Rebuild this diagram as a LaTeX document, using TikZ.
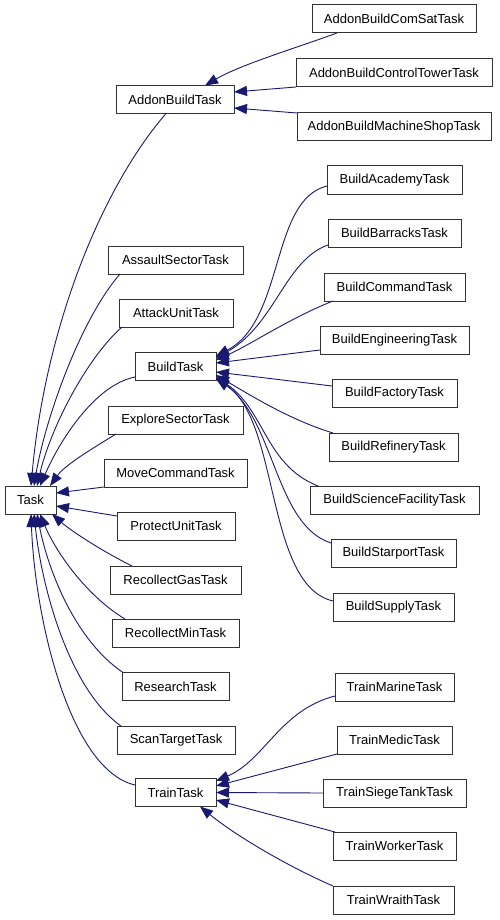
\documentclass[tikz,border=0pt]{standalone}
\usepackage{fontspec}
\setmainfont{Liberation Sans}
\usetikzlibrary{arrows.meta}
\definecolor{edgeblue}{HTML}{191970}
\definecolor{boxline}{HTML}{333333}
\begin{document}
\begin{tikzpicture}[x=1pt,y=-1pt,
  cls/.style={draw=boxline, line width=1pt, fill=white, minimum height=28pt, inner sep=0pt, outer sep=0pt, font=\fontsize{13}{15}\selectfont},
  conn/.style={draw=edgeblue, line width=0.9pt, -{Triangle[length=13pt,width=10pt]}}]
\useasboundingbox (0,0) rectangle (499,920);
\fill[white] (0,0) rectangle (499,920);
% left
\node[cls, minimum width=51pt] (Task) at (30.5,500) {Task};
% middle column
\node[cls, minimum width=118pt] (AddonBuildTask) at (175,99.5) {AddonBuildTask};
\node[cls, minimum width=135pt] (AssaultSectorTask) at (175.5,260) {AssaultSectorTask};
\node[cls, minimum width=114pt] (AttackUnitTask) at (176,313) {AttackUnitTask};
\node[cls, minimum width=81pt] (BuildTask) at (175.5,366.5) {BuildTask};
\node[cls, minimum width=135pt] (ExploreSectorTask) at (175.5,420) {ExploreSectorTask};
\node[cls, minimum width=143pt] (MoveCommandTask) at (175.5,473) {MoveCommandTask};
\node[cls, minimum width=118pt] (ProtectUnitTask) at (176,526) {ProtectUnitTask};
\node[cls, minimum width=131pt] (RecollectGasTask) at (175.5,580) {RecollectGasTask};
\node[cls, minimum width=127pt] (RecollectMinTask) at (175.5,633) {RecollectMinTask};
\node[cls, minimum width=107pt] (ResearchTask) at (175.5,686.5) {ResearchTask};
\node[cls, minimum width=118pt] (ScanTargetTask) at (176,740) {ScanTargetTask};
\node[cls, minimum width=81pt] (TrainTask) at (175.5,792.5) {TrainTask};
% right column
\node[cls, minimum width=164pt] (ComSat) at (394,19) {AddonBuildComSatTask};
\node[cls, minimum width=196pt] (ControlTower) at (394,73) {AddonBuildControlTowerTask};
\node[cls, minimum width=194pt] (MachineShop) at (394,127) {AddonBuildMachineShopTask};
\node[cls, minimum width=135pt] (Academy) at (394.5,180) {BuildAcademyTask};
\node[cls, minimum width=133pt] (Barracks) at (394.5,233) {BuildBarracksTask};
\node[cls, minimum width=141pt] (Command) at (394.5,287) {BuildCommandTask};
\node[cls, minimum width=149pt] (Engineering) at (394.5,340) {BuildEngineeringTask};
\node[cls, minimum width=125pt] (Factory) at (394.5,393) {BuildFactoryTask};
\node[cls, minimum width=129pt] (Refinery) at (393.5,447) {BuildRefineryTask};
\node[cls, minimum width=169pt] (Science) at (394.5,500) {BuildScienceFacilityTask};
\node[cls, minimum width=125pt] (Starport) at (393.5,553) {BuildStarportTask};
\node[cls, minimum width=121pt] (Supply) at (393.5,607) {BuildSupplyTask};
\node[cls, minimum width=119pt] (Marine) at (394.5,687) {TrainMarineTask};
\node[cls, minimum width=115pt] (Medic) at (394.5,740) {TrainMedicTask};
\node[cls, minimum width=143pt] (Siege) at (394.5,793) {TrainSiegeTankTask};
\node[cls, minimum width=123pt] (Worker) at (394.5,846) {TrainWorkerTask};
\node[cls, minimum width=121pt] (Wraith) at (393.5,900) {TrainWraithTask};

% edges to Task
\draw[conn] ([xshift=-9pt]AddonBuildTask.south) .. controls (100,190) and (45,330) .. ([xshift=0.5pt]Task.north);
\draw[conn] ([xshift=12pt]AssaultSectorTask.south west) .. controls (80,320) and (45,420) .. ([xshift=3.5pt]Task.north);
\draw[conn] ([xshift=3pt]AttackUnitTask.south west) .. controls (85,360) and (50,430) .. ([xshift=6.5pt]Task.north);
\draw[conn] ([yshift=-10.5pt]BuildTask.west) .. controls (95,385) and (60,440) .. ([xshift=9.5pt]Task.north);
\draw[conn] ([xshift=8pt]ExploreSectorTask.south west) .. controls (90,450) and (65,465) .. ([xshift=-6pt]Task.north east);
\draw[conn] (MoveCommandTask.south west) -- ([yshift=7pt]Task.east);
\draw[conn] ([yshift=10pt]ProtectUnitTask.west) -- ([yshift=-6pt]Task.east);
\draw[conn] ([xshift=22pt]RecollectGasTask.north west) .. controls (100,550) and (70,530) .. ([xshift=-4pt]Task.south east);
\draw[conn] ([xshift=13pt]RecollectMinTask.north west) .. controls (85,595) and (55,550) .. ([xshift=9.5pt]Task.south);
\draw[conn] ([xshift=1pt]ResearchTask.north west) .. controls (75,640) and (48,570) .. ([xshift=6.5pt]Task.south);
\draw[conn] ([xshift=4pt]ScanTargetTask.north west) .. controls (70,690) and (42,590) .. ([xshift=3.5pt]Task.south);
\draw[conn] ([yshift=7.5pt]TrainTask.west) .. controls (70,770) and (35,620) .. ([xshift=0.5pt]Task.south);

% edges to AddonBuildTask
\draw[conn] ([xshift=25pt]ComSat.south west) .. controls (290,50) and (240,65) .. ([xshift=30pt]AddonBuildTask.north);
\draw[conn] (ControlTower.south west) -- ([yshift=7.5pt]AddonBuildTask.east);
\draw[conn] (MachineShop.north west) -- ([yshift=-8.5pt]AddonBuildTask.east);

% edges to BuildTask
\draw[conn] ([yshift=-6pt]Academy.west) .. controls (270,200) and (285,320) .. ([yshift=10.5pt]BuildTask.east);
\draw[conn] ([yshift=-12pt]Barracks.west) .. controls (285,260) and (275,325) .. ([yshift=8.5pt]BuildTask.east);
\draw[conn] ([xshift=9pt]Command.south west) .. controls (290,318) and (250,345) .. ([yshift=6.5pt]BuildTask.east);
\draw[conn] ([yshift=-10pt]Engineering.west) -- ([yshift=3.5pt]BuildTask.east);
\draw[conn] ([yshift=7pt]Factory.west) -- ([yshift=-5.5pt]BuildTask.east);
\draw[conn] ([xshift=4pt]Refinery.north west) .. controls (290,420) and (250,395) .. ([yshift=-8.5pt]BuildTask.east);
\draw[conn] ([xshift=8pt]Science.north west) .. controls (265,465) and (265,410) .. ([yshift=-10.5pt]BuildTask.east);
\draw[conn] ([yshift=10pt]Starport.west) .. controls (275,525) and (275,420) .. ([yshift=-11.5pt]BuildTask.east);
\draw[conn] ([yshift=6pt]Supply.west) .. controls (265,585) and (280,420) .. ([yshift=-12.5pt]BuildTask.east);

% edges to TrainTask
\draw[conn] ([yshift=-9pt]Marine.west) .. controls (280,710) and (265,760) .. ([yshift=11.5pt]TrainTask.east);
\draw[conn] (Medic.south west) -- ([yshift=6.5pt]TrainTask.east);
\draw[conn] (Siege.west) -- (TrainTask.east);
\draw[conn] ([xshift=2pt]Worker.north west) -- ([yshift=-7.5pt]TrainTask.east);
\draw[conn] (Wraith.north west) .. controls (285,865) and (235,835) .. ([xshift=24.5pt]TrainTask.south);
\end{tikzpicture}
\end{document}
